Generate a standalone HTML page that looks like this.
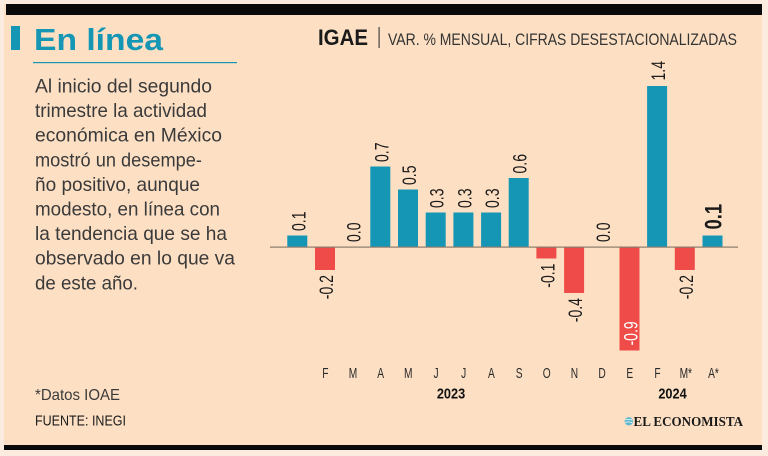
<!DOCTYPE html>
<html><head><meta charset="utf-8"><style>
html,body{margin:0;padding:0;background:#fcebdf;width:768px;height:456px;overflow:hidden}
svg{display:block}
</style></head><body>
<svg xmlns="http://www.w3.org/2000/svg" width="768" height="456" viewBox="0 0 768 456">
<rect x="0" y="0" width="768" height="456" fill="#fcebdf"/>
<rect x="4" y="4" width="758" height="446" fill="#fde0c4"/>
<rect x="6" y="4" width="756" height="11" fill="#0a0a0a"/>
<rect x="4" y="445" width="758" height="5" fill="#0a0a0a"/>

<!-- left title -->
<rect x="11" y="26" width="9" height="24" fill="#1496b4"/>
<text x="34" y="50" font-family="Liberation Sans, sans-serif" font-weight="bold" font-size="31" fill="#1496b4" textLength="129" lengthAdjust="spacingAndGlyphs">En línea</text>
<rect x="33" y="62" width="204" height="1.2" fill="#1496b4"/>

<g font-family="Liberation Sans, sans-serif" font-size="19.5" fill="#3a3a3a">
<text x="35" y="92.5" textLength="177" lengthAdjust="spacingAndGlyphs">Al inicio del segundo</text>
<text x="35" y="117.1" textLength="172" lengthAdjust="spacingAndGlyphs">trimestre la actividad</text>
<text x="35" y="141.7" textLength="187" lengthAdjust="spacingAndGlyphs">económica en México</text>
<text x="35" y="166.3" textLength="167" lengthAdjust="spacingAndGlyphs">mostró un desempe-</text>
<text x="35" y="190.9" textLength="165" lengthAdjust="spacingAndGlyphs">ño positivo, aunque</text>
<text x="35" y="215.5" textLength="185" lengthAdjust="spacingAndGlyphs">modesto, en línea con</text>
<text x="35" y="240.1" textLength="192" lengthAdjust="spacingAndGlyphs">la tendencia que se ha</text>
<text x="35" y="264.7" textLength="200" lengthAdjust="spacingAndGlyphs">observado en lo que va</text>
<text x="35" y="289.3" textLength="103" lengthAdjust="spacingAndGlyphs">de este año.</text>
</g>

<!-- header -->
<text x="318" y="45" font-family="Liberation Sans, sans-serif" font-weight="bold" font-size="22" fill="#1a1a1a" textLength="50" lengthAdjust="spacingAndGlyphs">IGAE</text>
<rect x="378.5" y="27" width="1.2" height="21" fill="#444"/>
<text x="388" y="45" font-family="Liberation Sans, sans-serif" font-size="16.5" fill="#333" textLength="349" lengthAdjust="spacingAndGlyphs">VAR. % MENSUAL, CIFRAS DESESTACIONALIZADAS</text>

<!-- bars -->
<g>
<rect x="287.3" y="235.5" width="20" height="11.5" fill="#1496b4"/>
<rect x="315.0" y="247" width="20" height="23" fill="#ef4b49"/>
<rect x="370.3" y="166.5" width="20" height="80.5" fill="#1496b4"/>
<rect x="398.0" y="189.5" width="20" height="57.5" fill="#1496b4"/>
<rect x="425.7" y="212.5" width="20" height="34.5" fill="#1496b4"/>
<rect x="453.4" y="212.5" width="20" height="34.5" fill="#1496b4"/>
<rect x="481.1" y="212.5" width="20" height="34.5" fill="#1496b4"/>
<rect x="508.7" y="178" width="20" height="69" fill="#1496b4"/>
<rect x="536.4" y="247" width="20" height="11.5" fill="#ef4b49"/>
<rect x="564.1" y="247" width="20" height="46" fill="#ef4b49"/>
<rect x="619.5" y="247" width="20" height="103.5" fill="#ef4b49"/>
<rect x="647.1" y="86" width="20" height="161" fill="#1496b4"/>
<rect x="674.8" y="247" width="20" height="23" fill="#ef4b49"/>
<rect x="702.5" y="235.5" width="20" height="11.5" fill="#1496b4"/>
</g>
<rect x="270" y="246.5" width="468" height="1.2" fill="#8a7b6c"/>

<!-- value labels -->
<g font-family="Liberation Sans, sans-serif" font-size="19.5" fill="#1a1a1a">
<text transform="translate(305.3,231) rotate(-90) scale(0.72,1)">0.1</text>
<text transform="translate(333,275) rotate(-90) scale(0.72,1)" text-anchor="end">-0.2</text>
<text transform="translate(360.7,242) rotate(-90) scale(0.72,1)">0.0</text>
<text transform="translate(388.3,162) rotate(-90) scale(0.72,1)">0.7</text>
<text transform="translate(416,185) rotate(-90) scale(0.72,1)">0.5</text>
<text transform="translate(443.7,208) rotate(-90) scale(0.72,1)">0.3</text>
<text transform="translate(471.4,208) rotate(-90) scale(0.72,1)">0.3</text>
<text transform="translate(499.1,208) rotate(-90) scale(0.72,1)">0.3</text>
<text transform="translate(526.7,173.5) rotate(-90) scale(0.72,1)">0.6</text>
<text transform="translate(554.4,263.5) rotate(-90) scale(0.72,1)" text-anchor="end">-0.1</text>
<text transform="translate(582.1,298) rotate(-90) scale(0.72,1)" text-anchor="end">-0.4</text>
<text transform="translate(609.8,242) rotate(-90) scale(0.72,1)">0.0</text>
<text transform="translate(637.5,345.5) rotate(-90) scale(0.72,1)" fill="#ffffff">-0.9</text>
<text transform="translate(665.1,80.5) rotate(-90) scale(0.72,1)">1.4</text>
<text transform="translate(692.8,275) rotate(-90) scale(0.72,1)" text-anchor="end">-0.2</text>
<text transform="translate(721.5,229.5) rotate(-90) scale(0.75,1)" font-weight="bold" font-size="24.5">0.1</text>
</g>

<!-- month labels -->
<g font-family="Liberation Sans, sans-serif" font-size="15" fill="#2a2a2a" text-anchor="middle">
<text transform="translate(325.3,378) scale(0.68,1)">F</text>
<text transform="translate(353,378) scale(0.68,1)">M</text>
<text transform="translate(380.7,378) scale(0.68,1)">A</text>
<text transform="translate(408.3,378) scale(0.68,1)">M</text>
<text transform="translate(436,378) scale(0.68,1)">J</text>
<text transform="translate(463.7,378) scale(0.68,1)">J</text>
<text transform="translate(491.4,378) scale(0.68,1)">A</text>
<text transform="translate(519.1,378) scale(0.68,1)">S</text>
<text transform="translate(546.7,378) scale(0.68,1)">O</text>
<text transform="translate(574.4,378) scale(0.68,1)">N</text>
<text transform="translate(602.1,378) scale(0.68,1)">D</text>
<text transform="translate(629.8,378) scale(0.68,1)">E</text>
<text transform="translate(657.5,378) scale(0.68,1)">F</text>
<text transform="translate(685.8,378) scale(0.68,1)">M*</text>
<text transform="translate(713.5,378) scale(0.68,1)">A*</text>
</g>
<g font-family="Liberation Sans, sans-serif" font-size="15" font-weight="bold" fill="#111" text-anchor="middle">
<text transform="translate(451,398.5) scale(0.85,1)">2023</text>
<text transform="translate(672.5,398.5) scale(0.85,1)">2024</text>
</g>

<!-- footer -->
<text x="35" y="400" font-family="Liberation Sans, sans-serif" font-size="16" fill="#3a3a3a" textLength="85" lengthAdjust="spacingAndGlyphs">*Datos IOAE</text>
<text x="35" y="425.7" font-family="Liberation Sans, sans-serif" font-size="15" fill="#1a1a1a" textLength="91" lengthAdjust="spacingAndGlyphs">FUENTE: INEGI</text>

<circle cx="628.8" cy="421.3" r="4.2" fill="#5fb8cc"/>
<path d="M625.5 420 q3 -1.5 6.5 0 M625.3 422.6 q3 -1.5 6.8 0" stroke="#ffffff" stroke-width="0.8" fill="none"/>
<text x="633.5" y="426" font-family="Liberation Serif, serif" font-weight="bold" font-size="13.5" fill="#1a1a1a" textLength="109.5" lengthAdjust="spacingAndGlyphs">EL ECONOMISTA</text>
</svg>
</body></html>
